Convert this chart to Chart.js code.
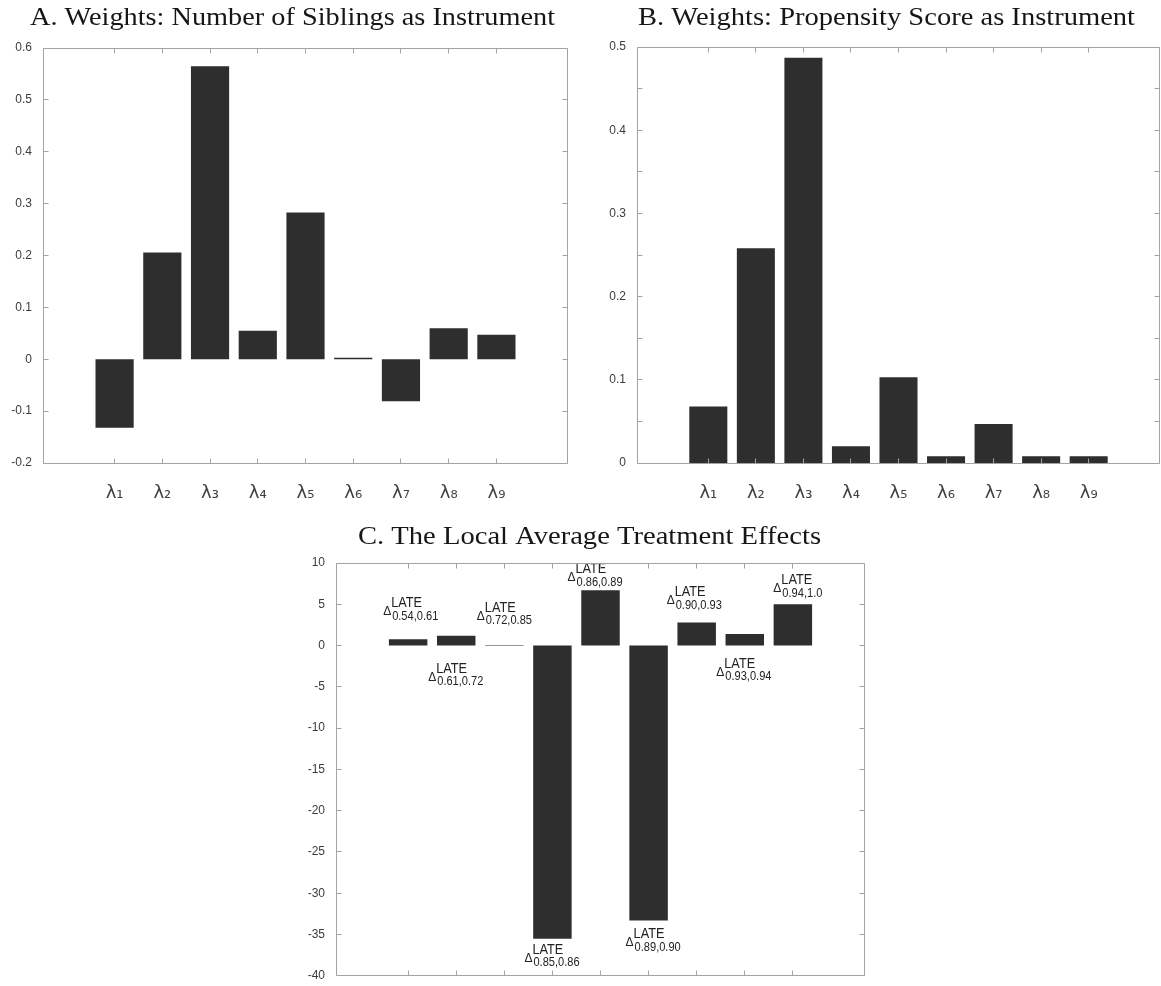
<!DOCTYPE html>
<html>
<head>
<meta charset="utf-8">
<script src="https://cdn.jsdelivr.net/npm/chart.js@4.4.1/dist/chart.umd.min.js"></script>
<style>
  html, body { margin: 0; padding: 0; background: #fff; }
  body { width: 1161px; height: 986px; position: relative; overflow: hidden; }
  canvas { position: absolute; }
</style>
</head>
<body>
<canvas id="chartA" width="580" height="520" style="left:0;top:0"></canvas>
<canvas id="chartB" width="581" height="520" style="left:580px;top:0"></canvas>
<canvas id="chartC" width="580" height="466" style="left:290px;top:520px"></canvas>
<script>
// ---- data ----
const weightLabels = ['λ₁', 'λ₂', 'λ₃', 'λ₄', 'λ₅', 'λ₆', 'λ₇', 'λ₈', 'λ₉'];
const siblingsWeights = [-0.132, 0.206, 0.565, 0.055, 0.283, 0.003, -0.081, 0.060, 0.047];
const propensityWeights = [0.068, 0.258, 0.487, 0.020, 0.103, 0.008, 0.047, 0.008, 0.008];
const lateEffects = [0.75, 1.2, 0.08, -35.5, 6.7, -33.3, 2.8, 1.4, 5.0];
const lateRanges = ['0.54,0.61', '0.61,0.72', '0.72,0.85', '0.85,0.86', '0.86,0.89',
                    '0.89,0.90', '0.90,0.93', '0.93,0.94', '0.94,1.0'];
const titleA = 'A. Weights: Number of Siblings as Instrument';
const titleB = 'B. Weights: Propensity Score as Instrument';
const titleC = 'C. The Local Average Treatment Effects';

// ---- styling ----
const BAR = '#2e2e2e';
const AXIS = '#a3a3a3';
const TICK_TEXT = '#3c3c3c';
const SANS = '"Liberation Sans", Arial, sans-serif';
const SERIF = '"Liberation Serif", "Times New Roman", serif';

// Box around the plot area with short inward ticks on all four sides
const boxTicks = {
  id: 'boxTicks',
  afterDraw(chart) {
    const { ctx, chartArea: a, scales } = chart;
    const px = v => Math.floor(v) + 0.5;
    const L = px(a.left), R = px(a.right - 1), T = px(a.top), B = px(a.bottom);
    const len = 5;
    ctx.save();
    ctx.strokeStyle = AXIS;
    ctx.lineWidth = 1;
    ctx.beginPath();
    ctx.rect(L, T, R - L, B - T);
    scales.y.ticks.forEach(t => {
      const y = px(scales.y.getPixelForValue(t.value));
      ctx.moveTo(L, y); ctx.lineTo(L + len, y);
      ctx.moveTo(R, y); ctx.lineTo(R - len, y);
    });
    for (let i = 1; i <= weightLabels.length; i++) {
      const x = px(scales.x.getPixelForValue(i));
      ctx.moveTo(x, B); ctx.lineTo(x, B - len);
      ctx.moveTo(x, T); ctx.lineTo(x, T + len);
    }
    ctx.stroke();
    ctx.restore();
  }
};

// Panel heading, fitted between a left and right edge
const panelTitle = {
  id: 'panelTitle',
  afterDraw(chart, args, o) {
    const ctx = chart.ctx;
    ctx.save();
    ctx.font = `${o.size}px ${SERIF}`;
    const w = ctx.measureText(o.text).width;
    ctx.translate(o.left, o.baseline);
    ctx.scale((o.right - o.left) / w, 1);
    ctx.fillStyle = '#161616';
    ctx.textAlign = 'left';
    ctx.textBaseline = 'alphabetic';
    ctx.fillText(o.text, 0, 0);
    ctx.restore();
  }
};

// Δ^LATE_{u,u'} annotations next to each bar of panel C
const lateLabels = {
  id: 'lateLabels',
  afterDatasetsDraw(chart, args, o) {
    if (!o.placement) return;
    const ctx = chart.ctx;
    const meta = chart.getDatasetMeta(0);
    ctx.save();
    ctx.fillStyle = '#222';
    ctx.textAlign = 'left';
    ctx.textBaseline = 'alphabetic';
    const narrow = (text, x, y, size) => {
      ctx.save();
      ctx.font = `${size}px ${SANS}`;
      ctx.translate(x, y);
      ctx.scale(0.82, 1);
      ctx.fillText(text, 0, 0);
      ctx.restore();
    };
    meta.data.forEach((bar, i) => {
      const [dx, dy, side] = o.placement[i];
      const edge = side === 'above' ? Math.min(bar.y, bar.base) : Math.max(bar.y, bar.base);
      const x0 = bar.x + dx, y0 = edge + dy;
      ctx.font = `12px ${SANS}`;
      ctx.fillText('Δ', x0, y0);
      narrow('LATE', x0 + 8, y0 - 8, 15.5);
      narrow(o.ranges[i], x0 + 9, y0 + 4.5, 13.5);
    });
    ctx.restore();
  }
};

function fmt(v) { return String(+v.toFixed(2)); }

function makeChart(id, values, cfg) {
  return new Chart(document.getElementById(id), {
    type: 'bar',
    data: {
      datasets: [{
        data: values.map((v, i) => ({ x: i + 1, y: v })),
        backgroundColor: BAR,
        borderWidth: 0,
        barPercentage: 0.8,
        categoryPercentage: 1.0
      }]
    },
    options: {
      responsive: false,
      animation: false,
      events: [],
      layout: { padding: cfg.padding },
      plugins: {
        legend: { display: false },
        tooltip: { enabled: false },
        title: { display: false },
        panelTitle: cfg.title,
        lateLabels: cfg.late || {}
      },
      scales: {
        x: {
          type: 'linear',
          min: 0, max: 10,
          grid: { display: false },
          border: { display: false },
          afterFit: s => { s.height = cfg.xHeight; },
          ticks: {
            display: cfg.xLabels,
            stepSize: 1,
            autoSkip: false,
            maxRotation: 0,
            padding: 12,
            color: '#404040',
            font: { family: '"DejaVu Sans", sans-serif', size: 18 },
            callback: v => (v >= 1 && v <= weightLabels.length) ? weightLabels[v - 1] : ''
          }
        },
        y: {
          min: cfg.yMin, max: cfg.yMax,
          grid: { display: false },
          border: { display: false },
          afterFit: s => { s.width = cfg.yWidth; },
          ticks: {
            stepSize: cfg.yStep,
            autoSkip: false,
            padding: 3,
            color: TICK_TEXT,
            font: { family: SANS, size: 12 },
            callback: cfg.yFormat || fmt
          }
        }
      }
    },
    plugins: [boxTicks, panelTitle, lateLabels]
  });
}

makeChart('chartA', siblingsWeights, {
  padding: { top: 48, right: 12, bottom: 0, left: 0 },
  yWidth: 43, xHeight: 57, xLabels: true,
  yMin: -0.2, yMax: 0.6, yStep: 0.1,
  title: { text: titleA, left: 30, right: 555, baseline: 25, size: 24.5 }
});

makeChart('chartB', propensityWeights, {
  padding: { top: 47, right: 1, bottom: 0, left: 0 },
  yWidth: 57, xHeight: 57, xLabels: true,
  yMin: 0, yMax: 0.5, yStep: 0.05,
  yFormat: v => (Math.round(v * 100) % 10 === 0) ? fmt(v) : '',
  title: { text: titleB, left: 58, right: 555, baseline: 25, size: 24.5 }
});

makeChart('chartC', lateEffects, {
  padding: { top: 43, right: 5, bottom: 0, left: 0 },
  yWidth: 46, xHeight: 6, xLabels: false,
  yMin: -40, yMax: 10, yStep: 5,
  title: { text: titleC, left: 68, right: 531, baseline: 23.5, size: 24.5 },
  late: {
    ranges: lateRanges,
    // [x shift from bar centre, y shift from bar end, side of the bar]
    placement: [
      [-25, -24, 'above'],
      [-28, 35, 'below'],
      [-27.5, -25, 'above'],
      [-28, 23, 'below'],
      [-33, -9, 'above'],
      [-23, 26, 'below'],
      [-30, -18, 'above'],
      [-28.5, 30, 'below'],
      [-19.5, -12, 'above']
    ]
  }
});
</script>
</body>
</html>
